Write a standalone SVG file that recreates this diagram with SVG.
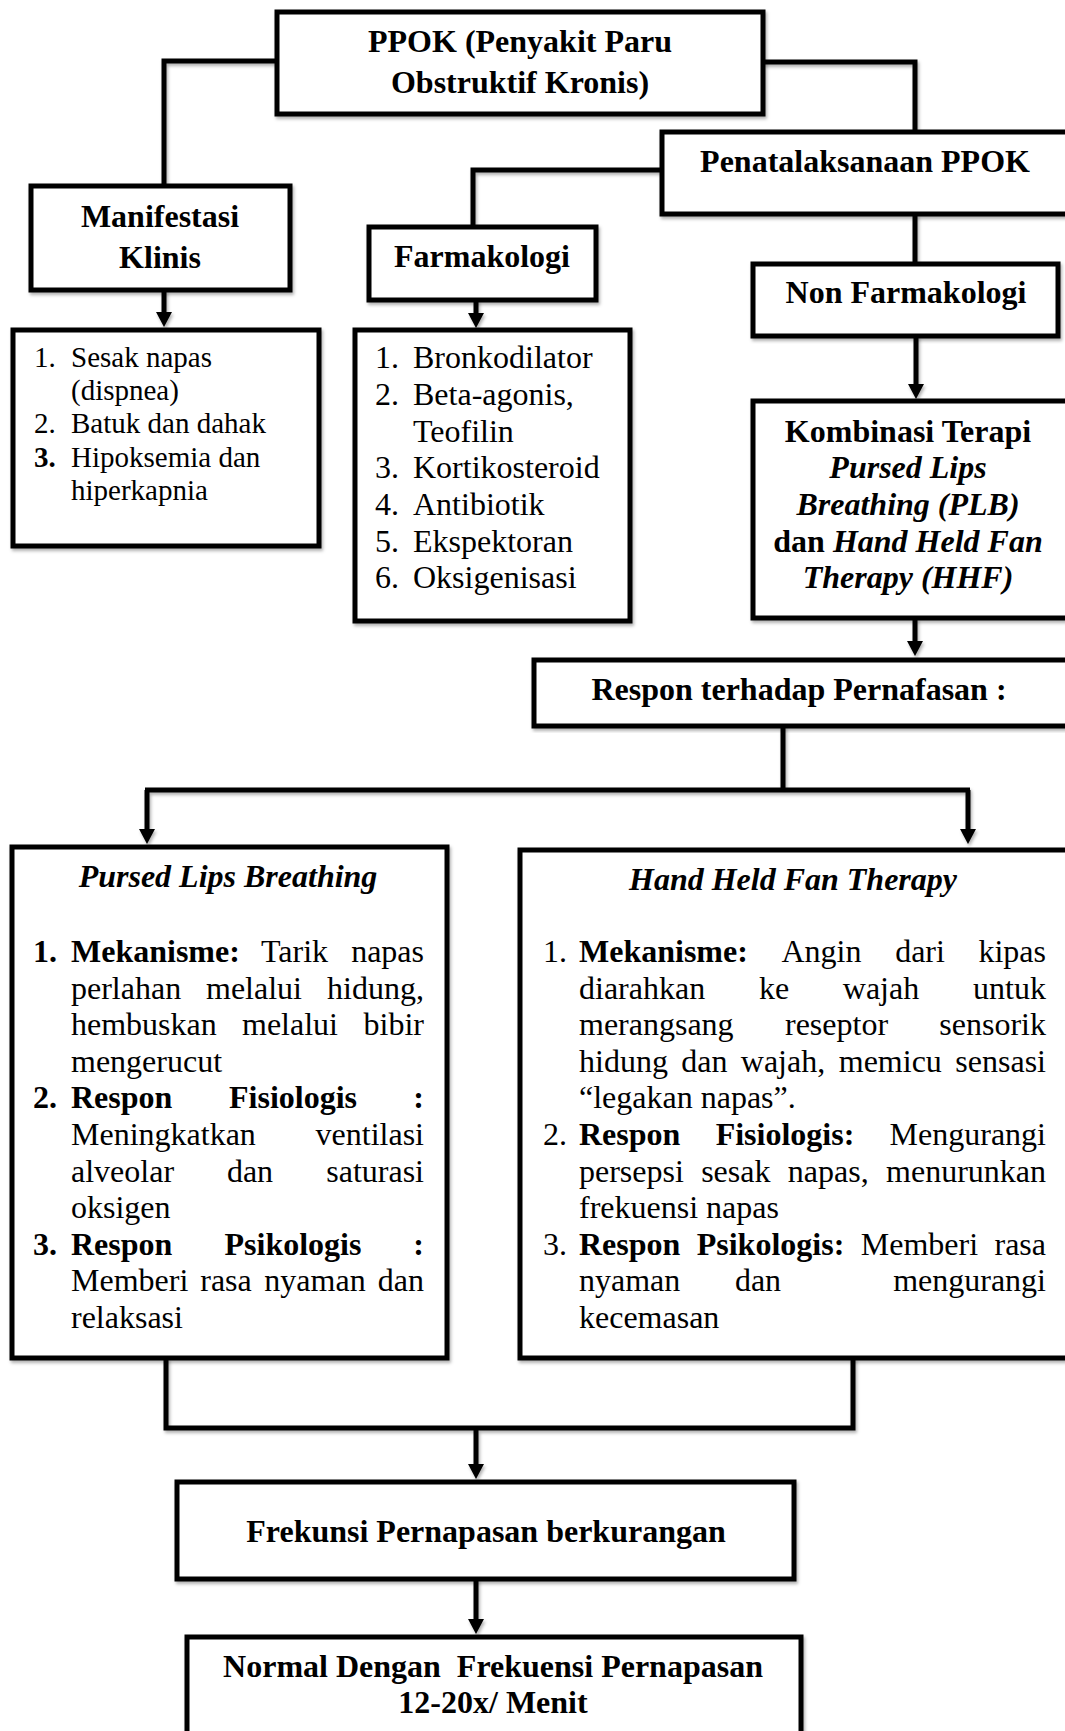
<svg xmlns="http://www.w3.org/2000/svg" width="1065" height="1731" viewBox="0 0 1065 1731">
<style>
text{font-family:"Liberation Serif","Times New Roman",serif;font-size:32px;fill:#000}
.b{font-weight:bold}
.i{font-style:italic}
.bi{font-weight:bold;font-style:italic}
.c{text-anchor:middle}
.m{text-anchor:middle}
.r{text-anchor:end}
.s{font-size:29px}
.box{fill:#fff;stroke:#000;stroke-width:5}
.ln{fill:none;stroke:#000;stroke-width:5}
</style>
<defs>
<marker id="arr" markerUnits="userSpaceOnUse" markerWidth="16" markerHeight="16" viewBox="0 0 15 16" refX="7" refY="8" orient="auto">
<path d="M0,0 L15,8 L0,16 Z" fill="#000"/>
</marker>
<filter id="sh" x="-5%" y="-5%" width="110%" height="115%">
<feDropShadow dx="1.5" dy="2.5" stdDeviation="1.5" flood-color="#000" flood-opacity="0.3"/>
</filter>
</defs>
<rect width="1065" height="1731" fill="#fff"/>

<g id="connectors" filter="url(#sh)">
<path class="ln" d="M277,61 H164 V186"/>
<path class="ln" d="M763,62 H915 V132"/>
<path class="ln" d="M662,170 H473 V227"/>
<path class="ln" d="M915,214 V264"/>
<path class="ln" d="M164,290 V319" marker-end="url(#arr)"/>
<path class="ln" d="M476,300 V320" marker-end="url(#arr)"/>
<path class="ln" d="M916,336 V391" marker-end="url(#arr)"/>
<path class="ln" d="M915,618 V648" marker-end="url(#arr)"/>
<path class="ln" d="M783,726 V790"/>
<path class="ln" d="M145,790 H970"/>
<path class="ln" d="M147,790 V836" marker-end="url(#arr)"/>
<path class="ln" d="M968,790 V836" marker-end="url(#arr)"/>
<path class="ln" d="M166,1358 V1428 H853 V1358"/>
<path class="ln" d="M476,1428 V1471" marker-end="url(#arr)"/>
<path class="ln" d="M476,1579 V1626" marker-end="url(#arr)"/>
</g>

<g id="ppok">
<rect class="box" x="277" y="12" width="486" height="102" filter="url(#sh)"/>
<text class="b c" x="520" y="52">PPOK (Penyakit Paru</text>
<text class="b c" x="520" y="93">Obstruktif Kronis)</text>
</g>

<g id="penatalaksanaan">
<rect class="box" x="662" y="132" width="410" height="82" filter="url(#sh)"/>
<text class="b c" x="865" y="172">Penatalaksanaan PPOK</text>
</g>

<g id="manifestasi">
<rect class="box" x="31" y="186" width="259" height="104" filter="url(#sh)"/>
<text class="b c" x="160" y="227">Manifestasi</text>
<text class="b c" x="160" y="268">Klinis</text>
</g>

<g id="farmakologi">
<rect class="box" x="369" y="227" width="227" height="73" filter="url(#sh)"/>
<text class="b c" x="482" y="267">Farmakologi</text>
</g>

<g id="non-farmakologi">
<rect class="box" x="753" y="264" width="305" height="72" filter="url(#sh)"/>
<text class="b c" x="906" y="303">Non Farmakologi</text>
</g>

<g id="manifestasi-list">
<rect class="box" x="13" y="330" width="306" height="216" filter="url(#sh)"/>
<text class="s" x="34" y="367">1.</text><text class="s" x="71" y="367">Sesak napas</text>
<text class="s" x="71" y="400">(dispnea)</text>
<text class="s" x="34" y="433">2.</text><text class="s" x="71" y="433">Batuk dan dahak</text>
<text class="s b" x="34" y="467">3.</text><text class="s" x="71" y="467">Hipoksemia dan</text>
<text class="s" x="71" y="500">hiperkapnia</text>
</g>

<g id="farmakologi-list">
<rect class="box" x="355" y="330" width="275" height="291" filter="url(#sh)"/>
<text x="375" y="368">1.</text><text x="413" y="368">Bronkodilator</text>
<text x="375" y="405">2.</text><text x="413" y="405">Beta-agonis,</text>
<text x="413" y="442">Teofilin</text>
<text x="375" y="478">3.</text><text x="413" y="478">Kortikosteroid</text>
<text x="375" y="515">4.</text><text x="413" y="515">Antibiotik</text>
<text x="375" y="552">5.</text><text x="413" y="552">Ekspektoran</text>
<text x="375" y="588">6.</text><text x="413" y="588">Oksigenisasi</text>
</g>

<g id="kombinasi">
<rect class="box" x="753" y="401" width="320" height="217" filter="url(#sh)"/>
<text class="b c" x="908" y="442">Kombinasi Terapi</text>
<text class="bi c" x="908" y="478">Pursed Lips</text>
<text class="bi c" x="908" y="515">Breathing (PLB)</text>
<text class="b c" x="908" y="552">dan <tspan class="bi">Hand Held Fan</tspan></text>
<text class="bi c" x="908" y="588">Therapy (HHF)</text>
</g>

<g id="respon">
<rect class="box" x="534" y="660" width="540" height="66" filter="url(#sh)"/>
<text class="b c" x="799" y="700">Respon terhadap Pernafasan :</text>
</g>

<g id="plb">
<rect class="box" x="12" y="847" width="435" height="511" filter="url(#sh)"/>
<text class="bi c" x="228" y="887">Pursed Lips Breathing</text>
<text class="b" x="33" y="962">1.</text><text class="b" x="71" y="962">Mekanisme:</text><text x="261" y="962">Tarik</text><text class="r" x="424" y="962">napas</text>
<text x="71" y="998.6">perlahan</text><text class="m" x="254" y="998.6">melalui</text><text class="r" x="424" y="998.6">hidung,</text>
<text x="71" y="1035.2">hembuskan</text><text class="m" x="290" y="1035.2">melalui</text><text class="r" x="424" y="1035.2">bibir</text>
<text x="71" y="1071.8">mengerucut</text>
<text class="b" x="33" y="1108.4">2.</text><text class="b" x="71" y="1108.4">Respon</text><text class="b m" x="293" y="1108.4">Fisiologis</text><text class="b r" x="424" y="1108.4">:</text>
<text x="71" y="1145">Meningkatkan</text><text class="r" x="424" y="1145">ventilasi</text>
<text x="71" y="1181.6">alveolar</text><text class="m" x="250" y="1181.6">dan</text><text class="r" x="424" y="1181.6">saturasi</text>
<text x="71" y="1218.2">oksigen</text>
<text class="b" x="33" y="1254.8">3.</text><text class="b" x="71" y="1254.8">Respon</text><text class="b m" x="293" y="1254.8">Psikologis</text><text class="b r" x="424" y="1254.8">:</text>
<text x="71" y="1291.4">Memberi</text><text class="m" x="226" y="1291.4">rasa</text><text class="m" x="315" y="1291.4">nyaman</text><text class="r" x="424" y="1291.4">dan</text>
<text x="71" y="1328">relaksasi</text>
</g>

<g id="hhf">
<rect class="box" x="520" y="850" width="560" height="508" filter="url(#sh)"/>
<text class="bi c" x="793" y="890">Hand Held Fan Therapy</text>
<text x="543" y="962">1.</text><text class="b" x="579" y="962">Mekanisme:</text><text class="m" x="821.5" y="962">Angin</text><text class="m" x="920" y="962">dari</text><text class="r" x="1046" y="962">kipas</text>
<text x="579" y="998.6">diarahkan</text><text class="m" x="774" y="998.6">ke</text><text class="m" x="881" y="998.6">wajah</text><text class="r" x="1046" y="998.6">untuk</text>
<text x="579" y="1035.2">merangsang</text><text class="m" x="836.5" y="1035.2">reseptor</text><text class="r" x="1046" y="1035.2">sensorik</text>
<text x="579" y="1071.8">hidung</text><text class="m" x="704.4" y="1071.8">dan</text><text class="m" x="783" y="1071.8">wajah,</text><text class="m" x="890.3" y="1071.8">memicu</text><text class="r" x="1046" y="1071.8">sensasi</text>
<text x="579" y="1108.4">“legakan napas”.</text>
<text x="543" y="1145">2.</text><text class="b" x="579" y="1145">Respon</text><text class="b m" x="785" y="1145">Fisiologis:</text><text class="r" x="1046" y="1145">Mengurangi</text>
<text x="579" y="1181.6">persepsi</text><text class="m" x="735.8" y="1181.6">sesak</text><text class="m" x="828.3" y="1181.6">napas,</text><text class="r" x="1046" y="1181.6">menurunkan</text>
<text x="579" y="1218.2">frekuensi napas</text>
<text x="543" y="1254.8">3.</text><text class="b" x="579" y="1254.8">Respon</text><text class="b m" x="770.5" y="1254.8">Psikologis:</text><text class="m" x="919.4" y="1254.8">Memberi</text><text class="r" x="1046" y="1254.8">rasa</text>
<text x="579" y="1291.4">nyaman</text><text class="m" x="758" y="1291.4">dan</text><text class="r" x="1046" y="1291.4">mengurangi</text>
<text x="579" y="1328">kecemasan</text>
</g>

<g id="frekunsi">
<rect class="box" x="177" y="1482" width="617" height="97" filter="url(#sh)"/>
<text class="b c" x="486" y="1542">Frekunsi Pernapasan berkurangan</text>
</g>

<g id="normal">
<rect class="box" x="187" y="1637" width="614" height="120" filter="url(#sh)"/>
<text class="b c" x="493" y="1677" style="white-space:pre">Normal Dengan  Frekuensi Pernapasan</text>
<text class="b c" x="493" y="1713">12-20x/ Menit</text>
</g>
</svg>
